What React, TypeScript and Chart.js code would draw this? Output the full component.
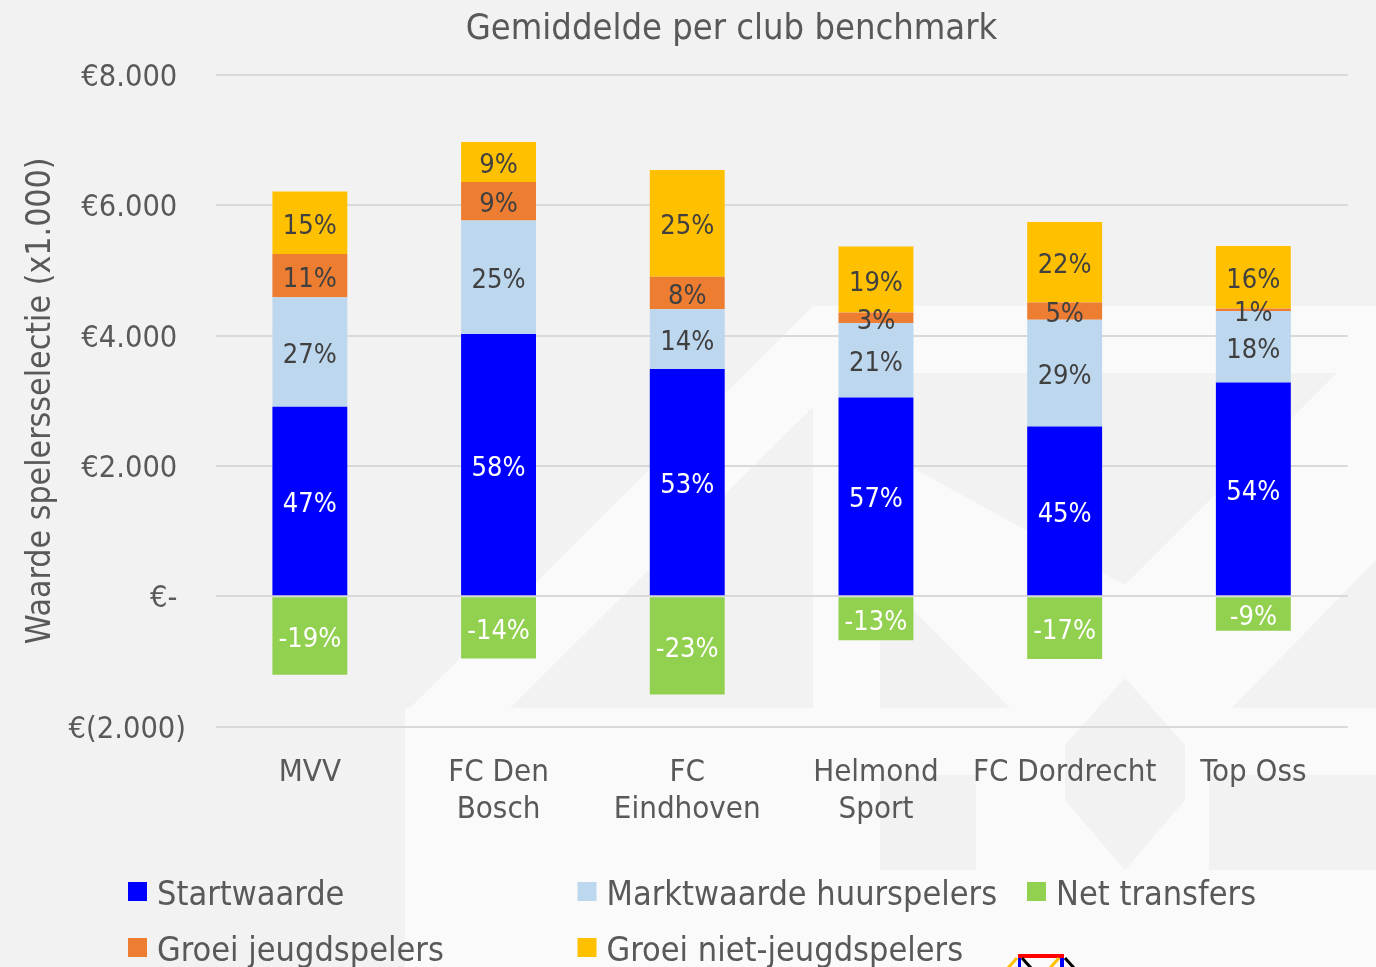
import React, { useEffect, useRef } from "react";
import { Chart, registerables } from "chart.js";

Chart.register(...registerables);

const FONT = '"DejaVu Sans Condensed", "DejaVu Sans", sans-serif';

const chartTitle = "Gemiddelde per club benchmark";
const yAxisTitle = "Waarde spelersselectie (x1.000)";

const clubs: (string | string[])[] = [
  "MVV",
  ["FC Den", "Bosch"],
  ["FC", "Eindhoven"],
  ["Helmond", "Sport"],
  "FC Dordrecht",
  "Top Oss",
];

const seriesNames = [
  "Startwaarde",
  "Marktwaarde huurspelers",
  "Net transfers",
  "Groei jeugdspelers",
  "Groei niet-jeugdspelers",
];
const seriesColors = ["#0000FF", "#BDD7EE", "#92D050", "#ED7D31", "#FFC000"];
const labelColors = ["#FFFFFF", "#404040", "#FFFFFF", "#404040", "#404040"];

const startwaarde = [2909, 4024, 3487, 3052, 2607, 3282];
const huurspelers = [1682, 1742, 920, 1141, 1636, 1095];
const netTransfers = [-1201, -955, -1507, -675, -960, -526];
const groeiJeugd = [664, 593, 496, 162, 266, 40];
const groeiNietJeugd = [956, 614, 1640, 1012, 1237, 961];

const startPct = ["47%", "58%", "53%", "57%", "45%", "54%"];
const huurPct = ["27%", "25%", "14%", "21%", "29%", "18%"];
const netPct = ["-19%", "-14%", "-23%", "-13%", "-17%", "-9%"];
const jeugdPct = ["11%", "9%", "8%", "3%", "5%", "1%"];
const nietJeugdPct = ["15%", "9%", "25%", "19%", "22%", "16%"];

const yMin = -2000;
const yMax = 8000;
const yStep = 2000;

const seriesValues = [startwaarde, huurspelers, netTransfers, groeiJeugd, groeiNietJeugd];
const seriesPct = [startPct, huurPct, netPct, jeugdPct, nietJeugdPct];

function euro(v: number): string {
  if (v === 0) return "€- ";
  const s = Math.abs(v).toString().replace(/\B(?=(\d{3})+(?!\d))/g, ".");
  return v < 0 ? `€(${s})` : `€${s} `;
}

type Pt = [number, number];
const LIGHT = "#FAFAFA";
const BG = "#F2F2F2";
const lightShapes: Pt[][] = [
  [[410, 708], [813, 306], [813, 407], [510, 708]],
  [[813, 306], [880, 306], [880, 708], [813, 708]],
  [[880, 306], [1376, 306], [1376, 373], [880, 373]],
  [[913, 468], [1125, 585], [1337, 373], [1376, 373], [1376, 708], [913, 708]],
  [[405, 708], [1376, 708], [1376, 967], [405, 967]],
];
const grayShapes: Pt[][] = [
  [[913, 610], [1010, 708], [913, 708]],
  [[1376, 560], [1232, 708], [1376, 708]],
  [[1125, 678], [1185, 745], [1185, 800], [1125, 870], [1065, 800], [1065, 745]],
  [[880, 775], [976, 775], [976, 870], [880, 870]],
  [[1209, 775], [1376, 775], [1376, 870], [1209, 870]],
];

const backgroundPlugin = {
  id: "bgWatermark",
  beforeDraw(chart: any) {
    const ctx = chart.ctx as CanvasRenderingContext2D;
    ctx.save();
    ctx.fillStyle = BG;
    ctx.fillRect(0, 0, chart.width, chart.height);
    const poly = (pts: Pt[], c: string) => {
      ctx.fillStyle = c;
      ctx.beginPath();
      pts.forEach((p, i) => (i ? ctx.lineTo(p[0], p[1]) : ctx.moveTo(p[0], p[1])));
      ctx.closePath();
      ctx.fill();
    };
    lightShapes.forEach((s) => poly(s, LIGHT));
    grayShapes.forEach((s) => poly(s, BG));
    ctx.restore();
  },
};

const dataLabelPlugin = {
  id: "segLabels",
  afterDatasetsDraw(chart: any) {
    const ctx = chart.ctx as CanvasRenderingContext2D;
    ctx.save();
    ctx.font = `27px ${FONT}`;
    ctx.textAlign = "center";
    ctx.textBaseline = "middle";
    chart.data.datasets.forEach((_ds: any, di: number) => {
      const meta = chart.getDatasetMeta(di);
      ctx.fillStyle = labelColors[di];
      meta.data.forEach((bar: any, i: number) => {
        const p = bar.getProps(["x", "y", "base"], true);
        ctx.fillText(seriesPct[di][i], p.x, (p.y + p.base) / 2 + 4);
      });
    });
    ctx.restore();
  },
};

const titleAndLegendPlugin = {
  id: "titleLegend",
  afterDraw(chart: any) {
    const ctx = chart.ctx as CanvasRenderingContext2D;
    ctx.save();
    // chart title, centred on the whole chart frame
    ctx.font = `36px ${FONT}`;
    ctx.fillStyle = "#595959";
    ctx.textAlign = "center";
    ctx.textBaseline = "alphabetic";
    ctx.fillText(chartTitle, 731.5, 38.5);

    // legend laid out in three fixed columns
    ctx.font = `34px ${FONT}`;
    ctx.textAlign = "left";
    const left = 128;
    const colW = 449.5;
    const rowY = [882, 938];
    seriesNames.forEach((name, i) => {
      const col = i % 3;
      const row = Math.floor(i / 3);
      const x = left + col * colW;
      const y = rowY[row];
      ctx.fillStyle = seriesColors[i];
      ctx.fillRect(x, y, 19, 19);
      ctx.fillStyle = "#595959";
      ctx.fillText(name, x + 29, y + 23);
    });

    // small logo at the bottom edge
    ctx.fillStyle = "#FF0000";
    ctx.fillRect(1018, 954, 46, 4);
    ctx.fillStyle = "#0000FF";
    ctx.fillRect(1018, 958, 3, 9);
    ctx.fillRect(1060, 958, 4, 9);
    ctx.lineWidth = 3;
    ctx.strokeStyle = "#FFC000";
    ctx.beginPath();
    ctx.moveTo(1017, 958);
    ctx.lineTo(1008, 968);
    ctx.moveTo(1059, 958);
    ctx.lineTo(1050, 968);
    ctx.stroke();
    ctx.strokeStyle = "#000000";
    ctx.beginPath();
    ctx.moveTo(1022, 958);
    ctx.lineTo(1031, 968);
    ctx.moveTo(1065, 958);
    ctx.lineTo(1074, 968);
    ctx.stroke();
    ctx.restore();
  },
};

export default function App() {
  const canvasRef = useRef<HTMLCanvasElement | null>(null);

  useEffect(() => {
    document.body.style.margin = "0";
    document.body.style.overflow = "hidden";
    const canvas = canvasRef.current;
    if (!canvas) return;
    const datasets = seriesNames.map((name, i) => ({
      label: name,
      data: seriesValues[i],
      backgroundColor: seriesColors[i],
      borderWidth: 0,
      stack: "s",
    }));
    const chart = new Chart(canvas, {
      type: "bar",
      data: { labels: clubs as any, datasets },
      plugins: [backgroundPlugin, dataLabelPlugin, titleAndLegendPlugin],
      options: {
        animation: false,
        responsive: true,
        maintainAspectRatio: false,
        devicePixelRatio: 1,
        layout: { padding: { left: 0, right: 28.3, top: 75, bottom: 120.3 } },
        datasets: { bar: { categoryPercentage: 1, barPercentage: 0.397 } },
        plugins: {
          legend: { display: false },
          tooltip: { enabled: false },
          title: { display: false, text: chartTitle },
        },
        scales: {
          x: {
            stacked: true,
            grid: { display: false },
            border: { display: false },
            ticks: {
              color: "#595959",
              font: { family: FONT, size: 31, lineHeight: 1.22 },
              padding: 19,
              maxRotation: 0,
              autoSkip: false,
            },
            afterFit: (scale: any) => {
              scale.height = 120;
            },
          },
          y: {
            stacked: true,
            min: yMin,
            max: yMax,
            grid: { color: "#D9D9D9", lineWidth: 2, drawTicks: false },
            border: { display: false },
            ticks: {
              stepSize: yStep,
              color: "#595959",
              font: { family: FONT, size: 30.5 },
              padding: 29.5,
              labelOffset: 3,
              callback: (v: any) => euro(Number(v)),
            },
            title: {
              display: true,
              text: yAxisTitle,
              color: "#595959",
              font: { family: FONT, size: 33.6, lineHeight: 1.2 },
              padding: { top: 21.5, bottom: 0 },
            },
            afterFit: (scale: any) => {
              scale.width = 215.5;
            },
          },
        },
      } as any,
    });
    return () => chart.destroy();
  }, []);

  return (
    <div style={{ position: "relative", width: "1376px", height: "967px", background: BG }}>
      <canvas ref={canvasRef} />
    </div>
  );
}
